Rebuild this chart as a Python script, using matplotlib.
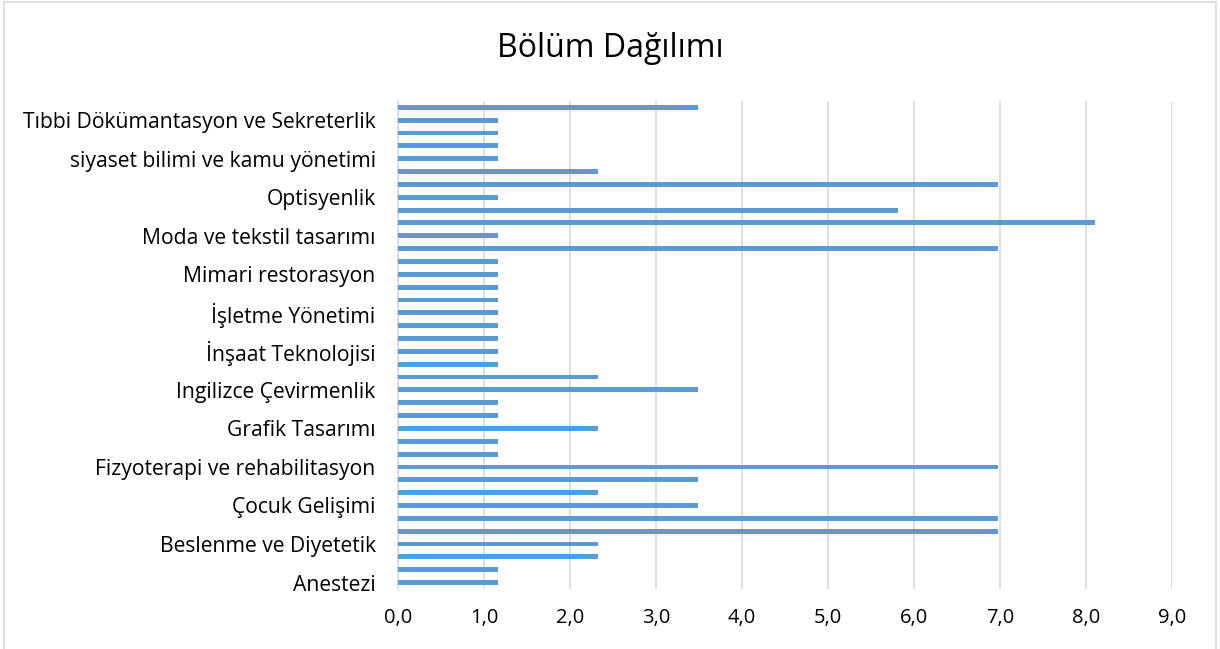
import matplotlib
matplotlib.use("Agg")
import matplotlib.pyplot as plt
from matplotlib.patches import Rectangle
import numpy as np

# departments in chart order (bottom to top); only every third name is shown on the axis
departments = [
    "Anestezi", "Aşçılık", "Bankacılık ve Sigortacılık",
    "Beslenme ve Diyetetik", "Bilgisayar Programcılığı", "Biyomedikal Cihaz Teknolojisi",
    "Çocuk Gelişimi", "Diş Protez Teknolojisi", "Elektrik",
    "Fizyoterapi ve rehabilitasyon", "Gastronomi", "Gazetecilik",
    "Grafik Tasarımı", "Halkla İlişkiler", "Hemşirelik",
    "Ingilizce Çevirmenlik", "İç Mimarlık", "İnsan Kaynakları Yönetimi",
    "İnşaat Teknolojisi", "İş Sağlığı ve Güvenliği", "İşletme",
    "İşletme Yönetimi", "Lojistik", "Makine",
    "Mimari restorasyon", "Mimarlık", "Moda Tasarımı",
    "Moda ve tekstil tasarımı", "Odyometri", "Ofis Yönetimi",
    "Optisyenlik", "Psikoloji", "Radyoterapi",
    "siyaset bilimi ve kamu yönetimi", "Sosyal Hizmet", "Spor Yönetimi",
    "Tıbbi Dökümantasyon ve Sekreterlik", "Turizm ve Otel İşletmeciliği",
]
percent = [
    1.16, 1.16, 2.33,
    2.33, 6.98, 6.98,
    3.49, 2.33, 3.49,
    6.98, 1.16, 1.16,
    2.33, 1.16, 1.16,
    3.49, 2.33, 1.16,
    1.16, 1.16, 1.16,
    1.16, 1.16, 1.16,
    1.16, 1.16, 6.98,
    1.16, 8.10, 5.81,
    1.16, 6.98, 2.33,
    1.16, 1.16, 1.16,
    1.16, 3.49,
]
x_ticks = np.arange(0, 10, 1)
x_tick_labels = [f"{v:.1f}".replace(".", ",") for v in x_ticks]

plt.rcParams['font.family'] = ['Open Sans', 'DejaVu Sans']

fig = plt.figure(figsize=(12.2, 6.49), dpi=100)
ax = fig.add_axes([0.3262, 0.0925, 0.6344, 0.752])

pos = np.arange(len(departments))
ax.barh(pos, percent, height=0.38, color='#5B9BD5', zorder=3)

ax.set_xlim(0, 9)
ax.set_ylim(-0.5, len(departments) - 0.5)
ax.set_xticks(x_ticks)
ax.set_xticklabels(x_tick_labels, fontsize=14.5)
shown = pos[::3]
ax.set_yticks(shown)
ax.set_yticklabels([departments[i] for i in shown], fontsize=15.2)
ax.tick_params(axis='both', length=0)
ax.tick_params(axis='y', pad=16)
ax.tick_params(axis='x', pad=14)

ax.grid(axis='x', color='#D9D9D9', linewidth=1.2, zorder=0)
for side in ['top', 'right', 'bottom']:
    ax.spines[side].set_visible(False)
ax.spines['left'].set_color('#D9D9D9')
ax.spines['left'].set_linewidth(1.2)

fig.text(0.5, 0.925, "Bölüm Dağılımı", ha='center', va='center', fontsize=23)

# chart area border
fig.patches.append(Rectangle((0.003, -0.01), 0.994, 1.007, transform=fig.transFigure,
                             fill=False, edgecolor='#D9D9D9', linewidth=1.2))

plt.savefig("out.png", dpi=100)
